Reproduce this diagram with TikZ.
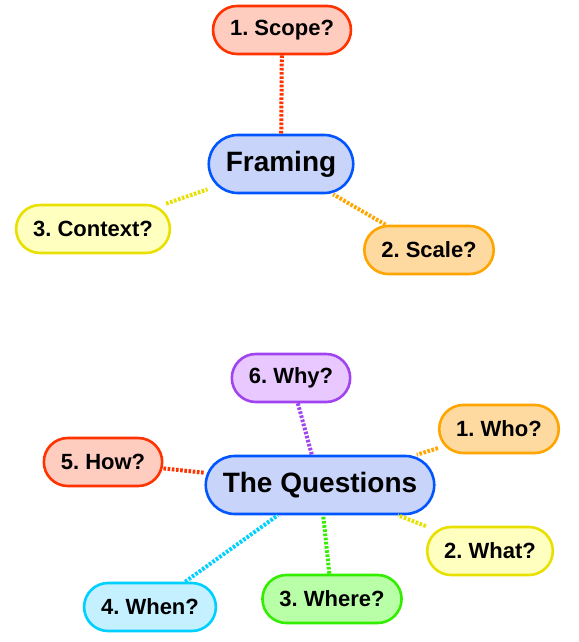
\documentclass[tikz,border=0pt]{standalone}
\usepackage{fontspec}
\setmainfont{Liberation Sans}
\frenchspacing
\definecolor{redline}{HTML}{FF3300}
\definecolor{redfill}{HTML}{FFCCC0}
\definecolor{blueline}{HTML}{0055FF}
\definecolor{bluefill}{HTML}{C8D4FA}
\definecolor{yellowline}{HTML}{E8E000}
\definecolor{yellowfill}{HTML}{FFFFC0}
\definecolor{orangeline}{HTML}{FFA500}
\definecolor{orangefill}{HTML}{FFDAA0}
\definecolor{purpleline}{HTML}{A044F0}
\definecolor{purplefill}{HTML}{E8C8FF}
\definecolor{cyanline}{HTML}{00D0FF}
\definecolor{cyanfill}{HTML}{C4F0FF}
\definecolor{greenline}{HTML}{33EE00}
\definecolor{greenfill}{HTML}{B8FFA8}
\tikzset{
    bubble/.style 2 args={draw=#1, fill=#2, line width=2.6pt, rounded corners=24pt,
        minimum height=48pt, inner xsep=17pt, font=\fontsize{22}{25}\selectfont\bfseries},
    hub/.style={bubble={blueline}{bluefill}, rounded corners=29pt, minimum height=58pt,
        font=\fontsize{28}{31}\selectfont\bfseries},
    link/.style={line width=4pt, dash pattern=on 2.6pt off 1.6pt}
}

\begin{document}
\begin{tikzpicture}[x=1pt, y=-1pt]
    \useasboundingbox (0,0) rectangle (578,642);

    % Framing
    \node[hub] (framing) at (281,164) {Framing};
    \node[bubble={redline}{redfill}] (scope) at (282,30) {1. Scope?};
    \node[bubble={orangeline}{orangefill}] (scale) at (429,250) {2. Scale?};
    \node[bubble={yellowline}{yellowfill}] (context) at (93,229) {3. Context?};
    \draw[link, redline] (scope) -- (framing);
    \draw[link, orangeline] (scale) -- (framing);
    \draw[link, yellowline] (context) -- (framing);

    % The Questions
    \node[hub] (questions) at (320,485) {The Questions};
    \node[bubble={orangeline}{orangefill}] (who) at (499,429) {1. Who?};
    \node[bubble={yellowline}{yellowfill}] (what) at (490,551) {2. What?};
    \node[bubble={greenline}{greenfill}] (where) at (332,599) {3. Where?};
    \node[bubble={cyanline}{cyanfill}] (when) at (150,607) {4. When?};
    \node[bubble={redline}{redfill}] (how) at (103,462) {5. How?};
    \node[bubble={purpleline}{purplefill}] (why) at (291,378) {6. Why?};
    \draw[link, orangeline] (who) -- (questions);
    \draw[link, yellowline] (what) -- (questions);
    \draw[link, greenline] (where) -- (questions);
    \draw[link, cyanline] (when) -- (questions);
    \draw[link, redline] (how) -- (questions);
    \draw[link, purpleline] (why) -- (questions);
\end{tikzpicture}
\end{document}
